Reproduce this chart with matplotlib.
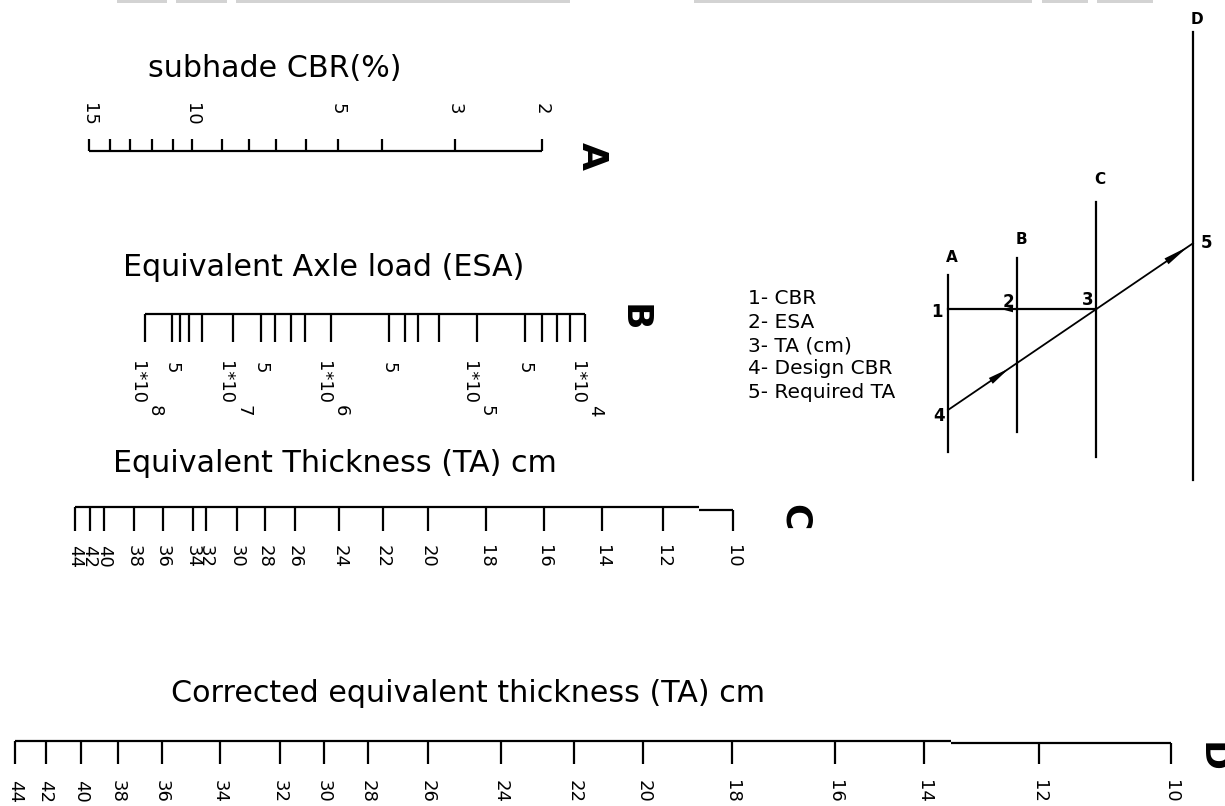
import numpy as np
import matplotlib
matplotlib.use("Agg")
import matplotlib.pyplot as plt
from matplotlib.patches import Polygon

# scale A - subgrade CBR (%)
cbr_values = [15, 14, 13, 12, 11, 10, 9, 8, 7, 6, 5, 4, 3, 2]
cbr_pos = [89, 110, 130, 152, 173, 192, 222, 249, 276, 306, 338, 382, 455, 542]
cbr_labelled = [15, 10, 5, 3, 2]

# scale B - equivalent axle load
esa_values = [1e8, 5e7, 4e7, 3e7, 2e7, 1e7, 5e6, 4e6, 3e6, 2e6, 1e6,
              5e5, 4e5, 3e5, 2e5, 1e5, 5e4, 4e4, 3e4, 2e4, 1e4]
esa_pos = [145, 172, 179.5, 188.5, 202, 233, 260.5, 274.5, 290.5, 304.5, 331,
           388.5, 404.5, 418, 439, 476.5, 525, 542, 556.5, 570, 585]

# scale C - equivalent thickness (cm)
ta_values = [44, 42, 40, 38, 36, 34, 32, 30, 28, 26, 24, 22, 20, 18, 16, 14, 12, 10]
ta_pos = [75, 89.5, 104, 134, 162.5, 192.5, 206, 236.5, 264.5, 295, 339.3, 383,
          427.6, 485.8, 544, 602.2, 662.8, 733]

# scale D - corrected equivalent thickness (cm)
cta_values = [44, 42, 40, 38, 36, 34, 32, 30, 28, 26, 24, 22, 20, 18, 16, 14, 12, 10]
cta_pos = [15, 45.5, 81, 117.5, 162, 220, 280, 323.5, 367.5, 428, 500.8, 574.3,
           643.3, 732.2, 835.2, 923.7, 1039, 1171]

legend_lines = ["1- CBR", "2- ESA", "3- TA (cm)", "4- Design CBR", "5- Required TA"]

# key diagram: scale name -> (x, top, bottom, label y)
key_scales = {"A": (948, 275, 452, 257), "B": (1017, 258, 432, 239),
              "C": (1096, 202, 457, 179), "D": (1193, 32, 480, 19)}

# grey screenshot remnants along the top edge
top_bars = [(117, 167), (176, 227), (236, 570), (694, 1032), (1042, 1088), (1097, 1153)]

LW = 1.6
TICK_FS = 13
TITLE_FS = 21.7


def draw_scale(ax, pos, y, tick_end, step_x=None, step_y=None):
    if step_x is None:
        ax.plot([pos[0], pos[-1]], [y, y], color="black", lw=LW, solid_capstyle="butt")
    else:
        ax.plot([pos[0], step_x], [y, y], color="black", lw=LW, solid_capstyle="butt")
        ax.plot([step_x, pos[-1]], [step_y, step_y], color="black", lw=LW, solid_capstyle="butt")
    for p in pos:
        y0 = y if step_x is None or p < step_x else step_y
        ax.plot([p, p], [y0, tick_end], color="black", lw=LW, solid_capstyle="butt")


def arrowhead(ax, tip, tail, length, width):
    tip = np.array(tip, float)
    d = tip - np.array(tail, float)
    d /= np.hypot(*d)
    n = np.array([-d[1], d[0]])
    base = tip - d * length
    pts = [tip, base + n * width / 2, base - n * width / 2]
    ax.add_patch(Polygon(pts, closed=True, color="black", lw=0))


fig = plt.figure(figsize=(12.25, 8.06), dpi=100)
ax = fig.add_axes([0, 0, 1, 1])
ax.set_xlim(0, 1225)
ax.set_ylim(806, 0)
ax.axis("off")

for x0, x1 in top_bars:
    ax.add_patch(plt.Rectangle((x0, 0), x1 - x0, 3, color="#d3d3d3", lw=0))

# A
ax.text(148, 77, "subhade CBR(%)", fontsize=TITLE_FS, ha="left", va="baseline")
draw_scale(ax, cbr_pos, 150.7, 139)
for v, p in zip(cbr_values, cbr_pos):
    if v in cbr_labelled:
        ax.text(p, 103, str(v), fontsize=TICK_FS, rotation=270, ha="center", va="top")
ax.text(592, 156, "A", fontsize=26, fontweight="bold", rotation=270, ha="center", va="center")

# B
ax.text(123, 276, "Equivalent Axle load (ESA)", fontsize=TITLE_FS, ha="left", va="baseline")
draw_scale(ax, esa_pos, 314, 342)
for v, p in zip(esa_values, esa_pos):
    exp = int(np.floor(np.log10(v) + 1e-9))
    mant = round(v / 10 ** exp)
    if mant == 1:
        ax.text(p - 8, 361, "1*10", fontsize=TICK_FS, rotation=270, ha="center", va="top")
        ax.text(p + 10, 405, str(exp), fontsize=TICK_FS, rotation=270, ha="center", va="top")
    elif mant == 5:
        ax.text(p, 362, "5", fontsize=TICK_FS, rotation=270, ha="center", va="top")
ax.text(634, 318, "B", fontsize=26, fontweight="bold", rotation=270, ha="center", va="center")

# C
ax.text(113, 472, "Equivalent Thickness (TA) cm", fontsize=TITLE_FS, ha="left", va="baseline")
draw_scale(ax, ta_pos, 506.7, 531, step_x=699, step_y=509.5)
for v, p in zip(ta_values, ta_pos):
    ax.text(p, 545, str(v), fontsize=TICK_FS, rotation=270, ha="center", va="top")
ax.text(795, 517, "C", fontsize=26, fontweight="bold", rotation=270, ha="center", va="center")

# D
ax.text(171, 702, "Corrected equivalent thickness (TA) cm", fontsize=TITLE_FS, ha="left", va="baseline")
draw_scale(ax, cta_pos, 741, 764, step_x=951, step_y=743)
for v, p in zip(cta_values, cta_pos):
    ax.text(p, 780, str(v), fontsize=TICK_FS, rotation=270, ha="center", va="top")
ax.text(1212, 757, "D", fontsize=26, fontweight="bold", rotation=270, ha="center", va="center")

# legend of the key
for i, s in enumerate(legend_lines):
    ax.text(748, 304 + i * 23.5, s, fontsize=14.5, ha="left", va="baseline")

# key diagram
for name, (x, top, bot, ly) in key_scales.items():
    ax.plot([x, x], [top, bot], color="black", lw=LW)
    ax.text(x + 4, ly, name, fontsize=11, fontweight="bold", ha="center", va="center")

xa, xb, xc, xd = (key_scales[k][0] for k in "ABCD")
p1 = (xa, 309.3)
p3 = (xc, 309.3)
p4 = (xa, 410)
p5 = (xd, 243.3)
ax.plot([p1[0], p3[0]], [p1[1], p3[1]], color="black", lw=LW)
ax.plot([p4[0], p5[0]], [p4[1], p5[1]], color="black", lw=1.3)
slope = (p5[1] - p4[1]) / (p5[0] - p4[0])
arrowhead(ax, (1002, p1[1]), (1020, p1[1]), 11, 6)
tx = 1009
arrowhead(ax, (tx, p4[1] + slope * (tx - p4[0])), p4, 22, 7)
tx = 1188
arrowhead(ax, (tx, p4[1] + slope * (tx - p4[0])), p4, 26, 7)

ax.text(937, 312, "1", fontsize=12, fontweight="bold", ha="center", va="center")
ax.text(1008, 302, "2", fontsize=12, fontweight="bold", ha="center", va="center")
ax.text(1088, 300, "3", fontsize=12, fontweight="bold", ha="center", va="center")
ax.text(939, 416, "4", fontsize=12, fontweight="bold", ha="center", va="center")
ax.text(1206, 243, "5", fontsize=12, fontweight="bold", ha="center", va="center")

fig.savefig("out.png", dpi=100)
